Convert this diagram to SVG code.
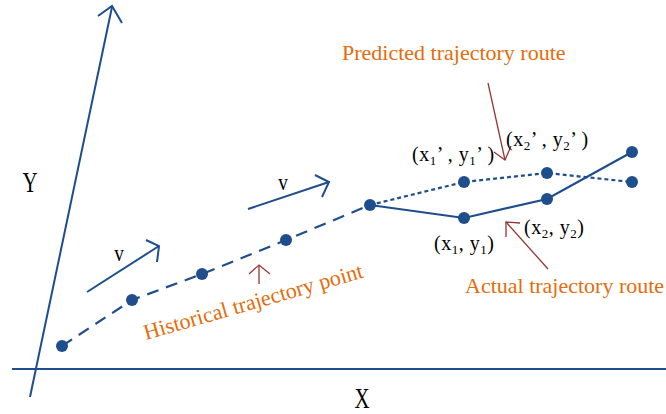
<svg xmlns="http://www.w3.org/2000/svg" width="666" height="414" viewBox="0 0 666 414">
<style>
.ax{stroke:#1F4E8C;stroke-width:2;fill:none}
.pt{fill:#1F4E8C}
.hist{stroke:#1F4E8C;stroke-width:2.2;fill:none;stroke-dasharray:12 8}
.pred{stroke:#1F4E8C;stroke-width:2.2;fill:none;stroke-dasharray:4 3}
.act{stroke:#1F4E8C;stroke-width:2.2;fill:none}
.red{stroke:#953735;stroke-width:1.3;fill:none}
.lbl{font-family:"Liberation Serif",serif;fill:#000}
.co{font-family:"Liberation Serif",serif;fill:#000;font-size:20px;letter-spacing:0.5px}
.or{font-family:"Liberation Serif",serif;fill:#E46C0A;font-size:22px}
</style>
<rect width="666" height="414" fill="#fff"/>
<g id="axes">
<line class="ax" x1="12" y1="369" x2="666" y2="369"/>
<line class="ax" x1="30" y1="397" x2="112" y2="7"/>
<polyline class="ax" points="98,16 112,6 122,23"/>
<text class="lbl" font-size="30" text-anchor="middle" transform="translate(30,192) scale(0.7,1)">Y</text>
<text class="lbl" font-size="30" text-anchor="middle" transform="translate(362,408) scale(0.7,1)">X</text>
</g>
<g id="connectors">
<polyline class="hist" points="62,346 132,300 202,274 286,240 370,205"/>
<polyline class="pred" points="370,205 464,182 547,173 632,182"/>
<polyline class="act" points="370,205 464,218 547,199 632,152"/>
</g>
<g id="velocity1">
<line class="ax" x1="87" y1="292" x2="159" y2="246"/>
<polyline class="ax" points="146,240 159,246 157,262"/>
<text class="lbl" font-size="24" text-anchor="middle" transform="translate(119,261) scale(0.8,1)">v</text>
</g>
<g id="velocity2">
<line class="ax" x1="248" y1="209" x2="329" y2="182"/>
<polyline class="ax" points="315,175 329,182 322,197"/>
<text class="lbl" font-size="24" text-anchor="middle" transform="translate(283,190) scale(0.8,1)">v</text>
</g>
<g id="points">
<circle class="pt" cx="62" cy="346" r="6"/>
<circle class="pt" cx="132" cy="300" r="6"/>
<circle class="pt" cx="202" cy="274" r="6"/>
<circle class="pt" cx="286" cy="240" r="6"/>
<circle class="pt" cx="370" cy="205" r="6"/>
<circle class="pt" cx="464" cy="182" r="6"/>
<circle class="pt" cx="547" cy="173" r="6"/>
<circle class="pt" cx="632" cy="182" r="6"/>
<circle class="pt" cx="464" cy="218" r="6"/>
<circle class="pt" cx="547" cy="199" r="6"/>
<circle class="pt" cx="632" cy="152" r="6"/>
</g>
<g id="historical-label">
<line class="red" x1="259" y1="284" x2="259" y2="265"/>
<polyline class="red" points="249,274 259,265 270,274"/>
<text class="or" transform="translate(146,340) rotate(-16)">Historical trajectory point</text>
</g>
<g id="predicted-label">
<text class="or" x="342" y="60">Predicted trajectory route</text>
<line class="red" x1="488" y1="83" x2="505" y2="160"/>
<polyline class="red" points="494,152 505,160 511,146"/>
</g>
<g id="actual-label">
<text class="or" x="465" y="293">Actual trajectory route</text>
<line class="red" x1="548" y1="269" x2="506" y2="222"/>
<polyline class="red" points="520,223 506,222 506,237"/>
</g>
<g id="coords">
<text class="co" x="412" y="161">(x<tspan font-size="13" dy="4">1</tspan><tspan dy="-4">’ , y</tspan><tspan font-size="13" dy="4">1</tspan><tspan dy="-4">’ )</tspan></text>
<text class="co" x="506" y="146">(x<tspan font-size="13" dy="4">2</tspan><tspan dy="-4">’ , y</tspan><tspan font-size="13" dy="4">2</tspan><tspan dy="-4">’ )</tspan></text>
<text class="co" x="434" y="250">(x<tspan font-size="13" dy="4">1</tspan><tspan dy="-4">, y</tspan><tspan font-size="13" dy="4">1</tspan><tspan dy="-4">)</tspan></text>
<text class="co" x="524" y="234">(x<tspan font-size="13" dy="4">2</tspan><tspan dy="-4">, y</tspan><tspan font-size="13" dy="4">2</tspan><tspan dy="-4">)</tspan></text>
</g>
</svg>
